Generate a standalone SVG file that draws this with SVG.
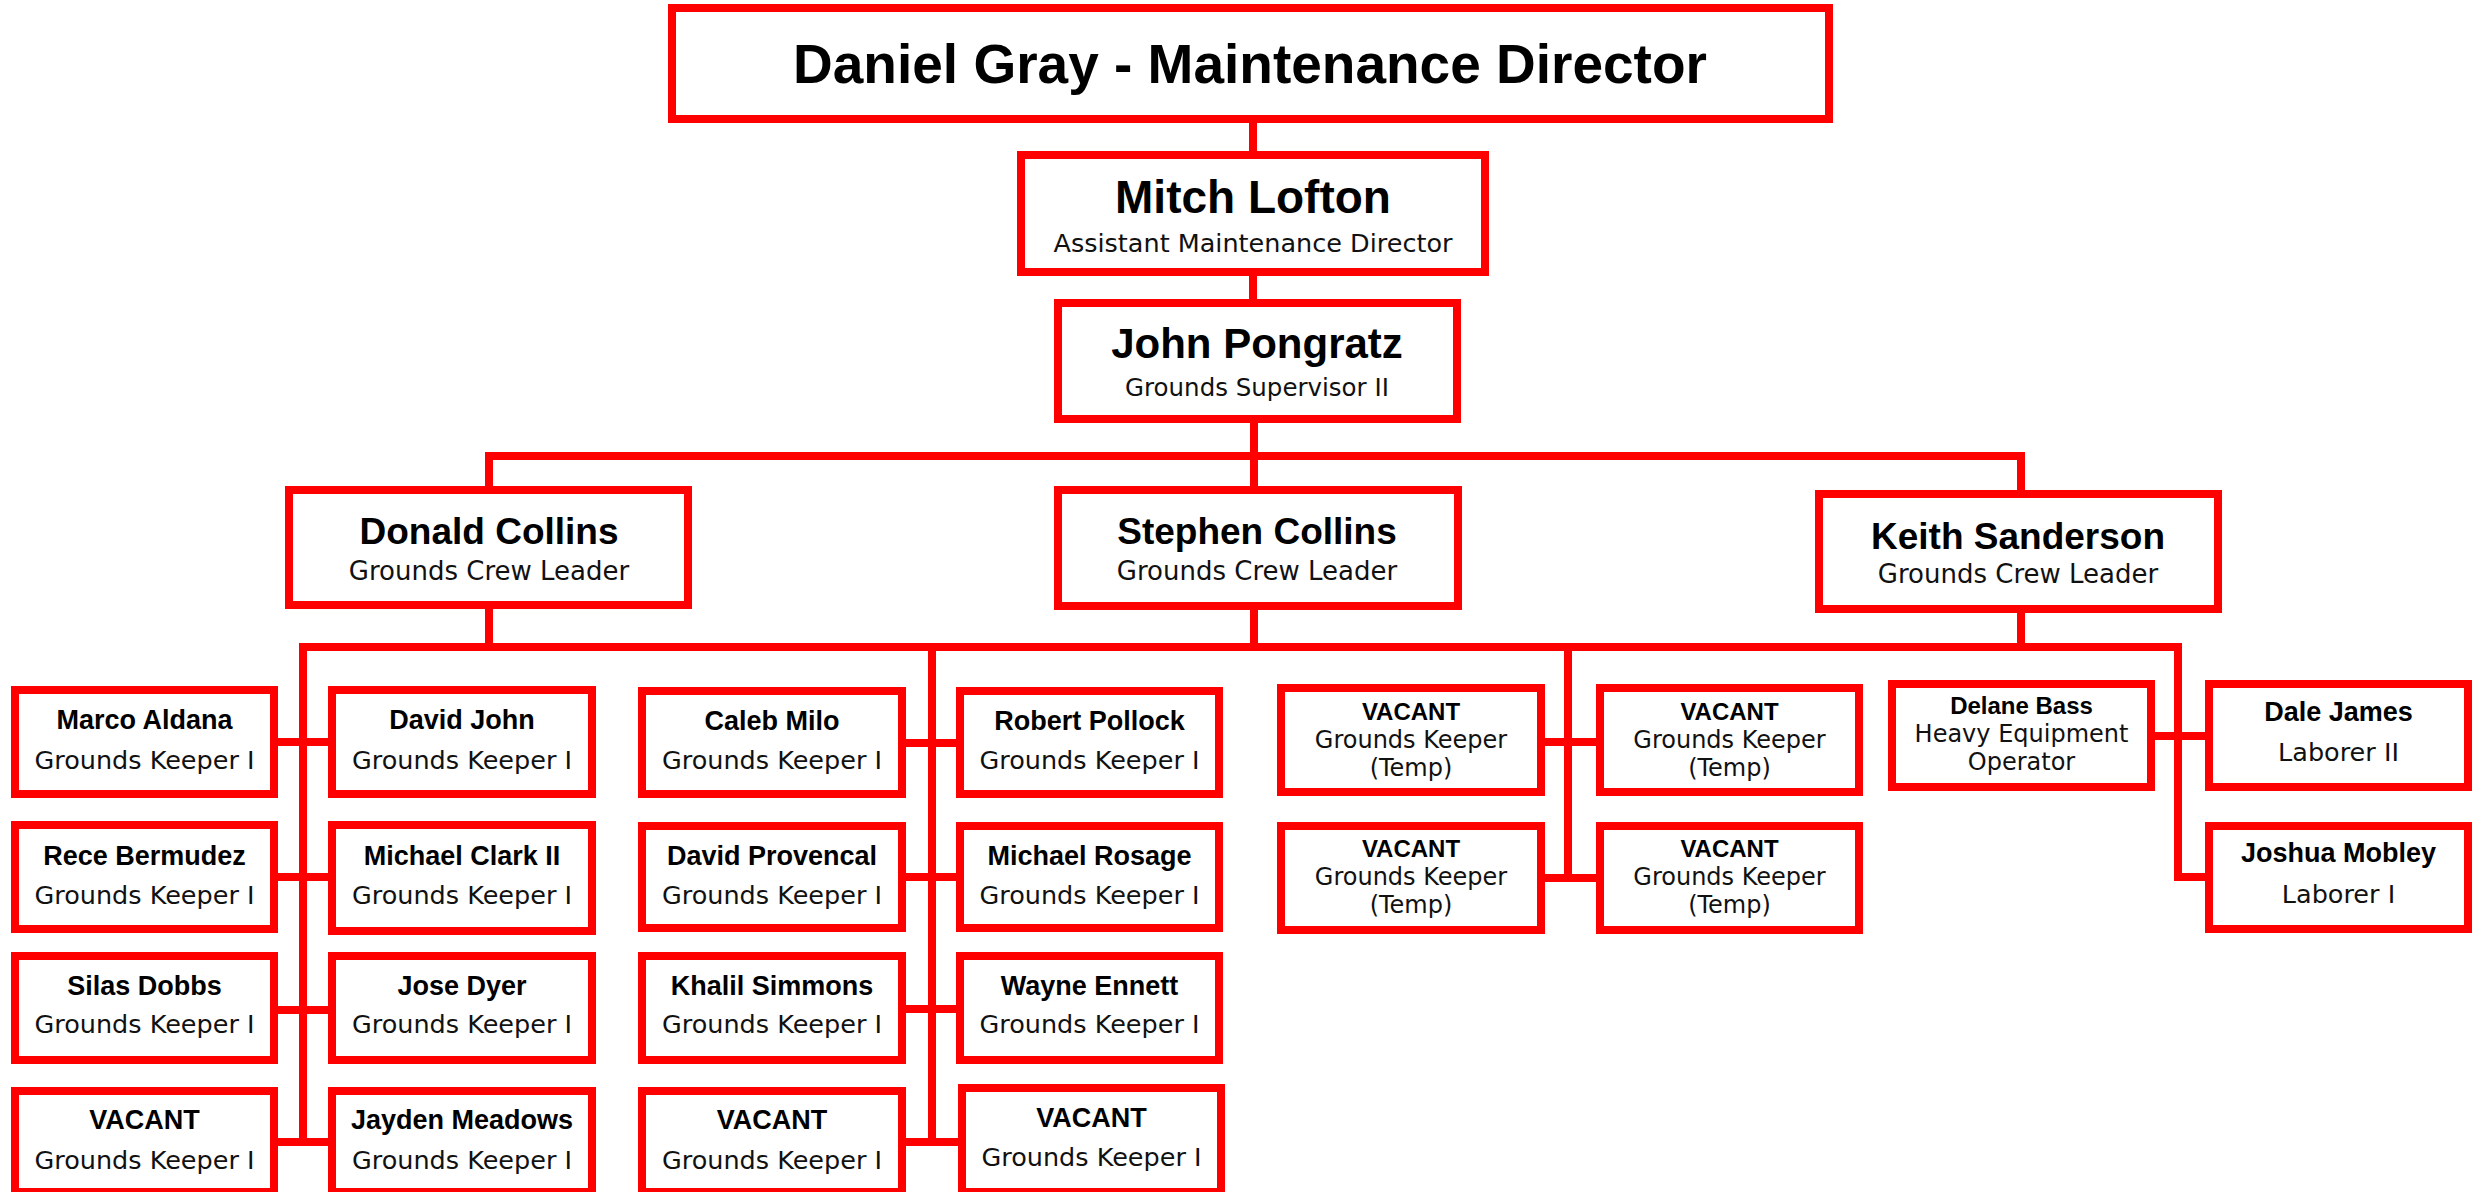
<svg xmlns="http://www.w3.org/2000/svg" width="2484" height="1192" viewBox="0 0 2484 1192">
<style>
.box{fill:#fff;stroke:#ff0000;stroke-width:8}
.ln{fill:none;stroke:#ff0000;stroke-width:8;stroke-linejoin:miter}
.n{font-family:"Liberation Sans",Arial,sans-serif;font-weight:bold;fill:#000;text-anchor:middle;font-size:27px}
.s{font-family:"DejaVu Sans",sans-serif;fill:#111;text-anchor:middle;font-size:25.5px}
.t{font-size:24px}
.v{font-size:24.5px}
</style>
<rect width="2484" height="1192" fill="#fff"/>
<g id="connectors">
<path class="ln" d="M1253 123V151M1253 276V299M1254 423V486"/>
<path class="ln" d="M489 486V456H2021V490"/>
<path class="ln" d="M489 609V647M1254 610V647M2021 613V647"/>
<path class="ln" d="M303 1146V647H2178V877H2209"/>
<path class="ln" d="M932 647V1146M1568 647V882"/>
<path class="ln" d="M278 742H328M278 877H328M278 1010H328M278 1142H328"/>
<path class="ln" d="M906 743H956M906 877H956M906 1009H956M906 1142H958"/>
<path class="ln" d="M1545 742H1596M1545 878H1596"/>
<path class="ln" d="M2155 736H2205"/>
</g>
<g id="daniel-gray">
<rect class="box" x="672" y="8" width="1157" height="111"/>
<text class="n" x="1250" y="83" style="font-size:55px">Daniel Gray - Maintenance Director</text>
</g>
<g id="mitch-lofton">
<rect class="box" x="1021" y="155" width="464" height="117"/>
<text class="n" x="1253" y="213" style="font-size:46px">Mitch Lofton</text>
<text class="s" x="1253" y="252" style="font-size:25.5px">Assistant Maintenance Director</text>
</g>
<g id="john-pongratz">
<rect class="box" x="1058" y="303" width="399" height="116"/>
<text class="n" x="1257" y="358" style="font-size:42px">John Pongratz</text>
<text class="s" x="1257" y="396" style="font-size:24.5px">Grounds Supervisor II</text>
</g>
<g id="donald-collins">
<rect class="box" x="289" y="490" width="399" height="115"/>
<text class="n" x="489" y="544" style="font-size:37px">Donald Collins</text>
<text class="s" x="489" y="580" style="font-size:26px">Grounds Crew Leader</text>
</g>
<g id="stephen-collins">
<rect class="box" x="1058" y="490" width="400" height="116"/>
<text class="n" x="1257" y="544" style="font-size:37px">Stephen Collins</text>
<text class="s" x="1257" y="580" style="font-size:26px">Grounds Crew Leader</text>
</g>
<g id="keith-sanderson">
<rect class="box" x="1819" y="494" width="399" height="115"/>
<text class="n" x="2018" y="549" style="font-size:37px">Keith Sanderson</text>
<text class="s" x="2018" y="583" style="font-size:26px">Grounds Crew Leader</text>
</g>
<g id="marco-aldana">
<rect class="box" x="15" y="690" width="259" height="104"/>
<text class="n" x="144.5" y="729">Marco Aldana</text>
<text class="s" x="144.5" y="769">Grounds Keeper I</text>
</g>
<g id="david-john">
<rect class="box" x="332" y="690" width="260" height="104"/>
<text class="n" x="462" y="729">David John</text>
<text class="s" x="462" y="769">Grounds Keeper I</text>
</g>
<g id="rece-bermudez">
<rect class="box" x="15" y="825" width="259" height="104"/>
<text class="n" x="144.5" y="865">Rece Bermudez</text>
<text class="s" x="144.5" y="904">Grounds Keeper I</text>
</g>
<g id="michael-clark">
<rect class="box" x="332" y="825" width="260" height="106"/>
<text class="n" x="462" y="865">Michael Clark II</text>
<text class="s" x="462" y="904">Grounds Keeper I</text>
</g>
<g id="silas-dobbs">
<rect class="box" x="15" y="956" width="259" height="104"/>
<text class="n" x="144.5" y="995">Silas Dobbs</text>
<text class="s" x="144.5" y="1033">Grounds Keeper I</text>
</g>
<g id="jose-dyer">
<rect class="box" x="332" y="956" width="260" height="104"/>
<text class="n" x="462" y="995">Jose Dyer</text>
<text class="s" x="462" y="1033">Grounds Keeper I</text>
</g>
<g id="vacant-1">
<rect class="box" x="15" y="1091" width="259" height="101"/>
<text class="n" x="144.5" y="1129">VACANT</text>
<text class="s" x="144.5" y="1169">Grounds Keeper I</text>
</g>
<g id="jayden-meadows">
<rect class="box" x="332" y="1091" width="260" height="101"/>
<text class="n" x="462" y="1129">Jayden Meadows</text>
<text class="s" x="462" y="1169">Grounds Keeper I</text>
</g>
<g id="caleb-milo">
<rect class="box" x="642" y="691" width="260" height="103"/>
<text class="n" x="772" y="730">Caleb Milo</text>
<text class="s" x="772" y="769">Grounds Keeper I</text>
</g>
<g id="robert-pollock">
<rect class="box" x="960" y="691" width="259" height="103"/>
<text class="n" x="1089.5" y="730">Robert Pollock</text>
<text class="s" x="1089.5" y="769">Grounds Keeper I</text>
</g>
<g id="david-provencal">
<rect class="box" x="642" y="826" width="260" height="102"/>
<text class="n" x="772" y="865">David Provencal</text>
<text class="s" x="772" y="904">Grounds Keeper I</text>
</g>
<g id="michael-rosage">
<rect class="box" x="960" y="826" width="259" height="102"/>
<text class="n" x="1089.5" y="865">Michael Rosage</text>
<text class="s" x="1089.5" y="904">Grounds Keeper I</text>
</g>
<g id="khalil-simmons">
<rect class="box" x="642" y="956" width="260" height="104"/>
<text class="n" x="772" y="995">Khalil Simmons</text>
<text class="s" x="772" y="1033">Grounds Keeper I</text>
</g>
<g id="wayne-ennett">
<rect class="box" x="960" y="956" width="259" height="104"/>
<text class="n" x="1089.5" y="995">Wayne Ennett</text>
<text class="s" x="1089.5" y="1033">Grounds Keeper I</text>
</g>
<g id="vacant-2">
<rect class="box" x="642" y="1091" width="260" height="101"/>
<text class="n" x="772" y="1129">VACANT</text>
<text class="s" x="772" y="1169">Grounds Keeper I</text>
</g>
<g id="vacant-3">
<rect class="box" x="962" y="1088" width="259" height="104"/>
<text class="n" x="1091.5" y="1127">VACANT</text>
<text class="s" x="1091.5" y="1166">Grounds Keeper I</text>
</g>
<g id="vacant-temp-1">
<rect class="box" x="1281" y="688" width="260" height="104"/>
<text class="n t" x="1411" y="720">VACANT</text>
<text class="s t" x="1411" y="748">Grounds Keeper</text>
<text class="s t" x="1411" y="776">(Temp)</text>
</g>
<g id="vacant-temp-2">
<rect class="box" x="1600" y="688" width="259" height="104"/>
<text class="n t" x="1729.5" y="720">VACANT</text>
<text class="s t" x="1729.5" y="748">Grounds Keeper</text>
<text class="s t" x="1729.5" y="776">(Temp)</text>
</g>
<g id="vacant-temp-3">
<rect class="box" x="1281" y="826" width="260" height="104"/>
<text class="n t" x="1411" y="857">VACANT</text>
<text class="s t" x="1411" y="885">Grounds Keeper</text>
<text class="s t" x="1411" y="913">(Temp)</text>
</g>
<g id="vacant-temp-4">
<rect class="box" x="1600" y="826" width="259" height="104"/>
<text class="n t" x="1729.5" y="857">VACANT</text>
<text class="s t" x="1729.5" y="885">Grounds Keeper</text>
<text class="s t" x="1729.5" y="913">(Temp)</text>
</g>
<g id="delane-bass">
<rect class="box" x="1892" y="684" width="259" height="103"/>
<text class="n t" x="2021.5" y="714">Delane Bass</text>
<text class="s t" x="2021.5" y="742">Heavy Equipment</text>
<text class="s t" x="2021.5" y="770">Operator</text>
</g>
<g id="dale-james">
<rect class="box" x="2209" y="684" width="259" height="103"/>
<text class="n" x="2338.5" y="721">Dale James</text>
<text class="s" x="2338.5" y="761">Laborer II</text>
</g>
<g id="joshua-mobley">
<rect class="box" x="2209" y="826" width="259" height="103"/>
<text class="n" x="2338.5" y="862">Joshua Mobley</text>
<text class="s" x="2338.5" y="903">Laborer I</text>
</g>
</svg>
